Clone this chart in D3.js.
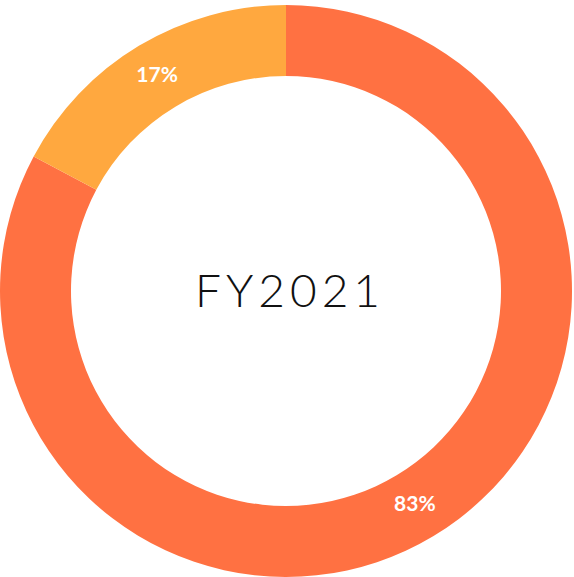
<!DOCTYPE html>
<html><head><meta charset="utf-8">
<script src="https://cdn.jsdelivr.net/npm/d3@7/dist/d3.min.js"></script>
<style>html,body{margin:0;padding:0;background:#fff;}svg{display:block;}</style>
</head><body>
<svg id="c" width="574" height="577"></svg>
<script>
const categories = ["A", "B"];
const values = [82.8, 17.2];
const labels = ["83%", "17%"];
const colors = ["#FF7142", "#FFA83F"];
const title = "FY2021";

const svg = d3.select("#c");
const cx = 286, cy = 291, R = 286, r = 215;
const g = svg.append("g").attr("transform", `translate(${cx},${cy})`);
const pie = d3.pie().sort(null).value(d => d)(values);
const arc = d3.arc().innerRadius(r).outerRadius(R);
g.selectAll("path").data(pie).join("path")
  .attr("d", arc).attr("fill", (d, i) => colors[i]);
g.selectAll("text.lbl").data(pie).join("text").attr("class", "lbl")
  .attr("transform", d => { const c = arc.centroid(d); return `translate(${c[0]},${c[1] - 2})`; })
  .attr("text-anchor", "middle").attr("dy", "0.35em")
  .attr("fill", "#fff").style("font-family", "Lato").style("font-weight", 700)
  .style("font-size", "21px").text((d, i) => labels[i]);
g.append("text").attr("text-anchor", "middle").attr("dy", "0.35em").attr("x", 4)
  .attr("fill", "#111").style("font-family", "Lato").style("font-weight", 300)
  .style("font-size", "46px").style("letter-spacing", "5px").text(title);
</script>
</body></html>
